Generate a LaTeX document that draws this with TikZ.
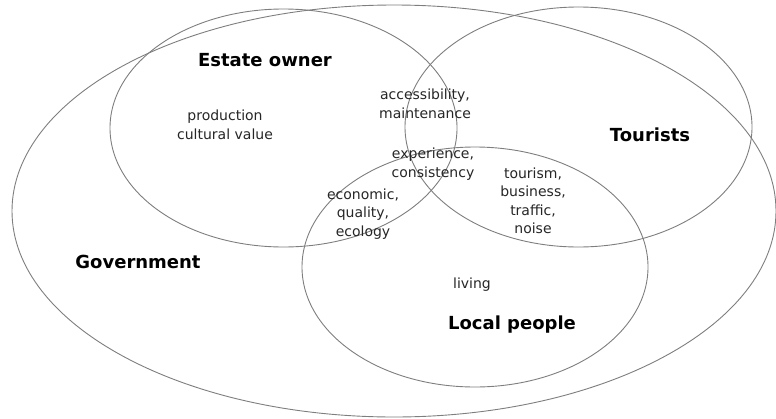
\documentclass[tikz,border=0pt]{standalone}
\usepackage{fontspec}
\setmainfont{DejaVu Sans}
\usepackage{xcolor}
\usepackage{tikz}
\definecolor{ring}{HTML}{7E7E7E}
\definecolor{ink}{HTML}{262626}
\tikzset{
  set/.style={draw=ring,line width=0.9pt},
  actor/.style={font=\fontsize{18}{20}\selectfont\bfseries,text=black,inner sep=0pt},
  topic/.style={font=\fontsize{14}{18.5}\selectfont,text=ink,align=center,inner sep=0pt}}
\begin{document}
\begin{tikzpicture}[x=1pt,y=-1pt]
\useasboundingbox (0,0) rectangle (776,418);
% centres of the four sets
\coordinate (gov) at (394,211);
\coordinate (est) at (283.5,128);
\coordinate (tou) at (578.5,127);
\coordinate (loc) at (475,267);
\draw[set] (gov) ellipse [x radius=382,y radius=206];
\draw[set] (est) ellipse [x radius=173.5,y radius=119];
\draw[set] (tou) ellipse [x radius=173.5,y radius=120];
\draw[set] (loc) ellipse [x radius=173,y radius=120];
% actors
\node[actor] (estname) at (265,60) {Estate owner};
\node[actor] (touname) at (650,135) {Tourists};
\node[actor] (govname) at (138,262) {Government};
\node[actor] (locname) at (512,325) {Local people};
% interests
\node[topic] (estonly) at (225,125) {production\\cultural value};
\node[topic] (esttou) at (425,104) {accessibility,\\maintenance};
\node[topic] (all) at (433,164) {experience,\\consistency};
\node[topic] (estloc) at (363,214) {economic,\\quality,\\ecology};
\node[topic] (touloc) at (533,201) {tourism,\\business,\\traffic,\\noise};
\node[topic] (loconly) at (472,285) {living};
\end{tikzpicture}
\end{document}
